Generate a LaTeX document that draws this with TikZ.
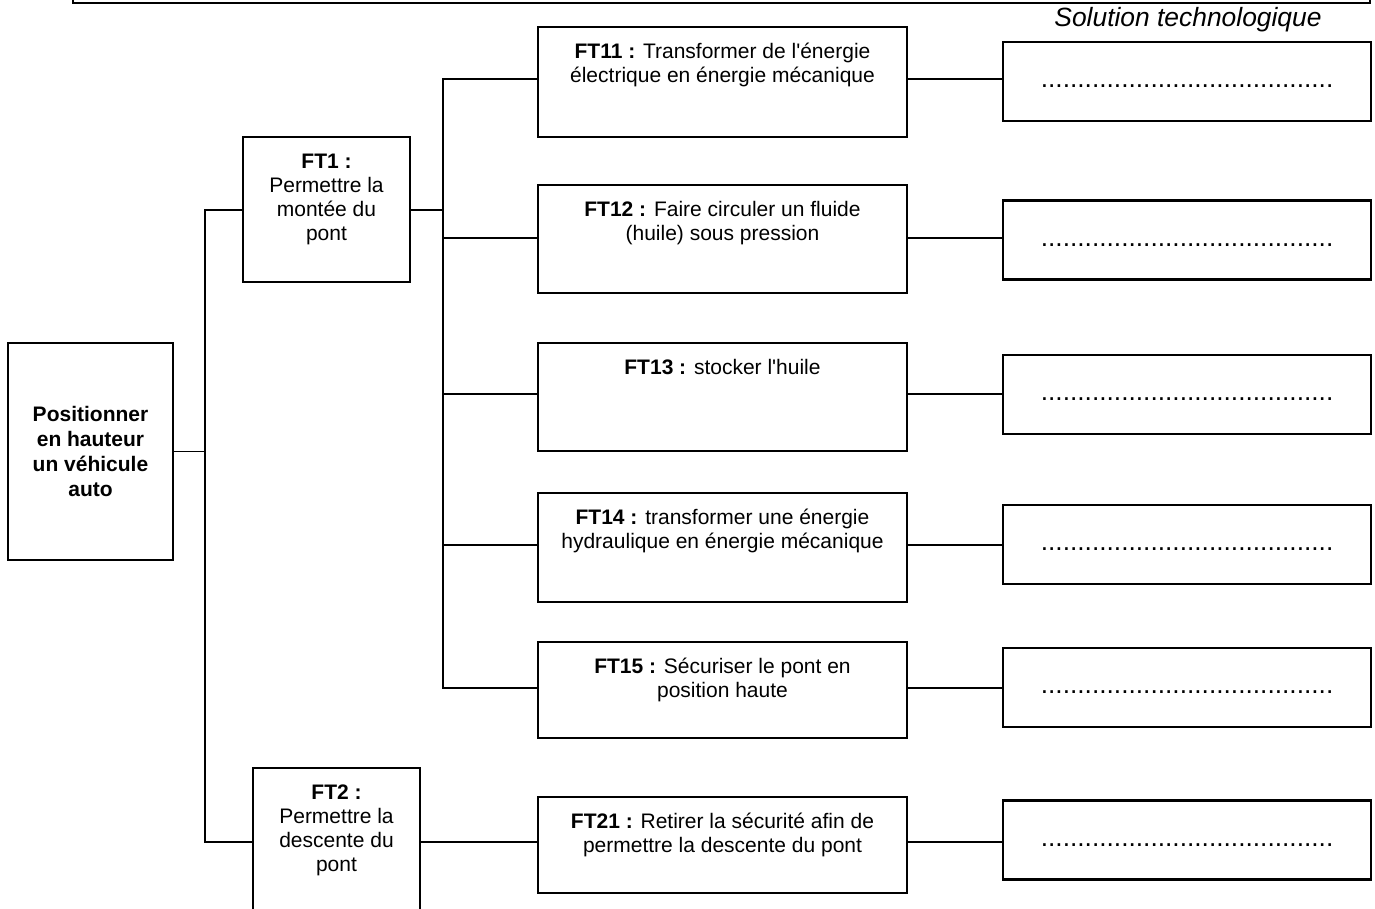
\documentclass[tikz,border=0pt]{standalone}
\usepackage{fontspec}
\setmainfont{Liberation Sans}[Ligatures=TeXOff]
\newcommand\ftcontent[3]{\parbox[c][#1][t]{#2}{\centering\rule{0pt}{31pt}#3}}
\tikzset{
  box/.style={draw, line width=1.8pt, inner sep=0pt, outer sep=0pt},
  conn/.style={line width=1.6pt},
  ftfont/.style={font=\fontsize{21}{24}\selectfont},
  solbox/.style={box, line width=2.2pt, minimum width=368pt, minimum height=79pt, text height=14pt, text depth=2pt, font=\fontsize{26.3}{30}\selectfont},
}
\begin{document}
\begin{tikzpicture}[x=1pt,y=-1pt]
\useasboundingbox (0,0) rectangle (1375,908);
\clip (0,0) rectangle (1375,908);
% frame of the block above (cut off)
\draw[box] (73,-20) rectangle (1370,3);
\node[font=\itshape\fontsize{26.4}{30}\selectfont] (soltitle) at (1188,20) {Solution technologique};
% main function
\node[box, ftfont, minimum width=165pt, minimum height=217pt, align=center, font=\bfseries\fontsize{21}{25}\selectfont] (main) at (90.5,451.5)
  {Positionner\\en hauteur\\un véhicule\\auto};
% level 1
\node[box, ftfont] (ft1) at (326.5,209.5) {\ftcontent{145pt}{167pt}{\textbf{FT1 :}\\Permettre la\\montée du\\pont}};
\node[box, ftfont] (ft2) at (336.5,840.5) {\ftcontent{145pt}{167pt}{\textbf{FT2 :}\\Permettre la\\descente du\\pont}};
% level 2
\node[box, ftfont] (ft11) at (722.5,82) {\ftcontent{110pt}{369pt}{\textbf{FT11 :} Transformer de l'énergie\\électrique en énergie mécanique}};
\node[box, ftfont] (ft12) at (722.5,239) {\ftcontent{108pt}{369pt}{\textbf{FT12 :} Faire circuler un fluide\\(huile) sous pression}};
\node[box, ftfont] (ft13) at (722.5,397) {\ftcontent{108pt}{369pt}{\textbf{FT13 :} stocker l'huile}};
\node[box, ftfont] (ft14) at (722.5,547.5) {\ftcontent{109pt}{369pt}{\textbf{FT14 :} transformer une énergie\\hydraulique en énergie mécanique}};
\node[box, ftfont] (ft15) at (722.5,690) {\ftcontent{96pt}{369pt}{\textbf{FT15 :} Sécuriser le pont en\\position haute}};
\node[box, ftfont] (ft21) at (722.5,845) {\ftcontent{96pt}{369pt}{\textbf{FT21 :} Retirer la sécurité afin de\\permettre la descente du pont}};
% solutions
\node[solbox] (s1) at (1187,81.5) {........................................};
\node[solbox] (s2) at (1187,240) {........................................};
\node[solbox] (s3) at (1187,394.5) {........................................};
\node[solbox] (s4) at (1187,544.5) {........................................};
\node[solbox] (s5) at (1187,687.5) {........................................};
\node[solbox] (s6) at (1187,840) {........................................};
% junction coordinates
\coordinate (t1) at (205,210);
\coordinate (t2) at (205,842);
\coordinate (bf) at (443,210);
\coordinate (b1) at (443,79);
\coordinate (b2) at (443,238);
\coordinate (b3) at (443,394);
\coordinate (b4) at (443,545);
\coordinate (b5) at (443,688);
% connectors
\draw[conn] (main.east) -- (main.east -| t1);
\draw[conn] (ft1.west |- t1) -- (t1) -- (t2) -- (ft2.west |- t2);
\draw[conn] (ft1.east |- bf) -- (bf);
\draw[conn] (ft11.west |- b1) -- (b1) -- (b5) -- (ft15.west |- b5);
\draw[conn] (b2) -- (b2 -| ft12.west);
\draw[conn] (b3) -- (b3 -| ft13.west);
\draw[conn] (b4) -- (b4 -| ft14.west);
\draw[conn] (ft2.east |- t2) -- (t2 -| ft21.west);
\draw[conn] (ft11.east |- b1) -- (b1 -| s1.west);
\draw[conn] (ft12.east |- b2) -- (b2 -| s2.west);
\draw[conn] (ft13.east |- b3) -- (b3 -| s3.west);
\draw[conn] (ft14.east |- b4) -- (b4 -| s4.west);
\draw[conn] (ft15.east |- b5) -- (b5 -| s5.west);
\draw[conn] (ft21.east |- t2) -- (t2 -| s6.west);
\end{tikzpicture}
\end{document}
